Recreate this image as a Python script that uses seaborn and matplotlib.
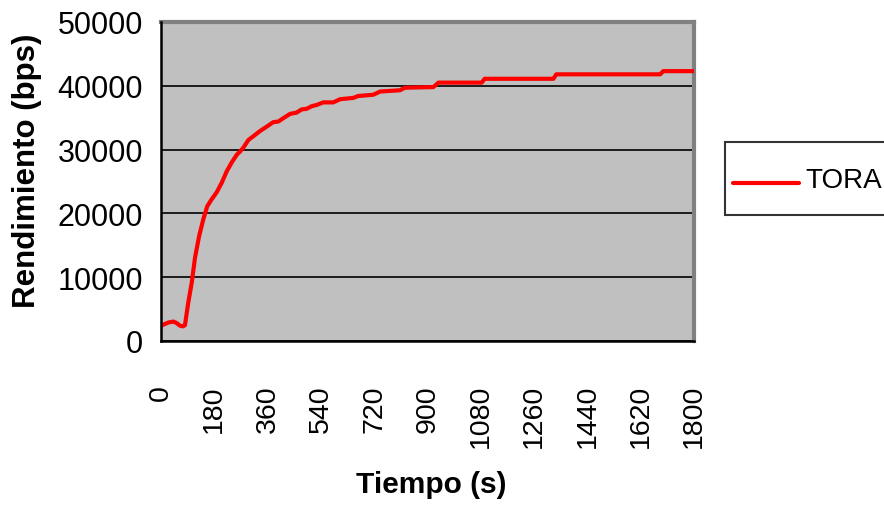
import matplotlib
matplotlib.use("Agg")
import numpy as np
import matplotlib.pyplot as plt
from matplotlib.legend_handler import HandlerLine2D
import seaborn as sns
import pandas as pd

# Throughput of the TORA protocol over the simulation time
tiempo = [0, 25, 42, 53, 64, 75, 81, 92, 104, 115,
          129, 143, 156, 171, 188, 205, 222, 239, 256, 267,
          278, 295, 312, 334, 357, 379, 396, 419, 436, 458,
          475, 492, 509, 526, 548, 582, 605, 649, 666, 717,
          740, 807, 824, 920, 937, 1083, 1093, 1325, 1335, 1686,
          1696, 1800]
rendimiento = [2400, 2900, 3050, 2800, 2400, 2300, 2500, 6000, 9200, 13100,
               16500, 19100, 21100, 22200, 23300, 24800, 26600, 28000, 29200, 29700,
               30300, 31500, 32100, 32900, 33600, 34300, 34400, 35100, 35600, 35800,
               36300, 36400, 36800, 37000, 37400, 37400, 37900, 38100, 38400, 38600,
               39100, 39300, 39700, 39800, 40500, 40500, 41100, 41100, 41800, 41800,
               42300, 42300]
protocolo = "TORA"
x_ticks = list(range(0, 1801, 180))
y_ticks = [0, 10000, 20000, 30000, 40000, 50000]

df = pd.DataFrame({"Tiempo": tiempo, "Rendimiento": rendimiento, "Protocolo": protocolo})

sns.set_style("white")
plt.rcParams["font.family"] = ["Liberation Sans", "DejaVu Sans"]
plt.rcParams["text.color"] = "black"
plt.rcParams["axes.labelcolor"] = "black"

W, H = 884, 506
fig = plt.figure(figsize=(W / 100, H / 100), dpi=100)
ax = fig.add_axes([161 / W, 1 - 342 / H, (694 - 161) / W, (342 - 23) / H])

sns.lineplot(data=df, x="Tiempo", y="Rendimiento", hue="Protocolo",
             palette=["#FF0000"], linewidth=3, ax=ax, legend=False, zorder=3)

ax.set_facecolor("#C0C0C0")
ax.set_xlim(0, 1800)
ax.set_ylim(0, 50000)
ax.set_xticks(x_ticks)
ax.set_xticklabels([str(t) for t in x_ticks], rotation=90)
ax.set_yticks(y_ticks)
ax.set_yticklabels([str(v) for v in y_ticks])

ax.grid(axis="y", color="black", linewidth=1.2, zorder=1)
ax.grid(axis="x", visible=False)
ax.set_axisbelow(True)

for side in ("top", "right"):
    ax.spines[side].set_color("#808080")
    ax.spines[side].set_linewidth(3)
for side in ("left", "bottom"):
    ax.spines[side].set_color("black")
    ax.spines[side].set_linewidth(1.8)
    ax.spines[side].set_zorder(4)

ax.tick_params(axis="x", direction="out", length=8, width=1.5, color="black",
               pad=23, labelsize=20.5, labelcolor="black")
ax.tick_params(axis="y", direction="in", length=6, width=1.5, color="black",
               pad=13, labelsize=22, labelcolor="black")

ax.set_xlabel("Tiempo (s)", fontsize=21.5, fontweight="bold", color="black")
ax.set_ylabel("Rendimiento (bps)", fontsize=22.5, fontweight="bold", va="center", color="black")
ax.xaxis.set_label_coords(0.5066, -0.405)
ax.yaxis.set_label_coords(-0.2514, 0.536)


class LoweredLineHandler(HandlerLine2D):
    """Legend line handler that sits the sample line level with the label text."""

    def create_artists(self, legend, orig_handle, xdescent, ydescent,
                       width, height, fontsize, trans):
        artists = super().create_artists(legend, orig_handle, xdescent, ydescent,
                                         width, height, fontsize, trans)
        for art in artists:
            art.set_ydata(np.asarray(art.get_ydata()) - 10.5)
        return artists


handle = plt.Line2D([], [], color="#FF0000", linewidth=3)
leg = fig.legend([handle], [protocolo], loc="upper left",
                 bbox_to_anchor=(725 / W, 1 - 143 / H), bbox_transform=fig.transFigure,
                 borderaxespad=0, frameon=True, fancybox=False,
                 handlelength=2.35, handleheight=2.75, handletextpad=0.25, borderpad=0.3,
                 handler_map={plt.Line2D: LoweredLineHandler()},
                 prop={"family": "Liberation Sans", "size": 20})
leg.get_frame().set_edgecolor("black")
leg.get_frame().set_linewidth(1.5)
leg.get_frame().set_facecolor("white")
for txt in leg.get_texts():
    txt.set_color("black")

fig.savefig("out.png", dpi=100)
